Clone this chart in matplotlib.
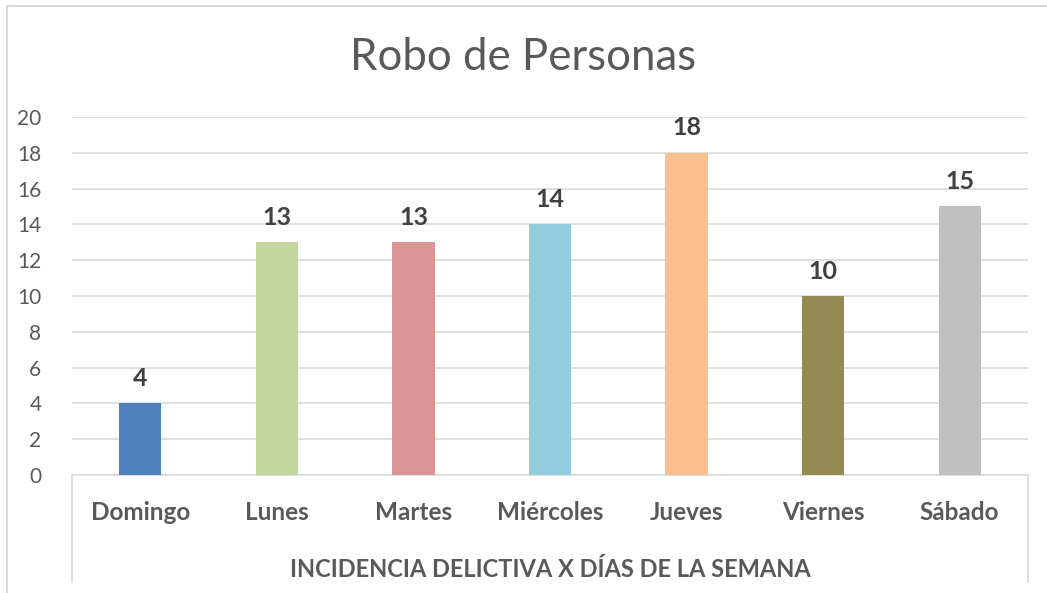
import matplotlib.pyplot as plt
from matplotlib.lines import Line2D

days = ['Domingo', 'Lunes', 'Martes', 'Miércoles', 'Jueves', 'Viernes', 'Sábado']
robos = [4, 13, 13, 14, 18, 10, 15]
colores = ['#4F81BD', '#C3D69B', '#D99694', '#93CDDD', '#FAC090', '#948A54', '#BFBFBF']

plt.rcParams['font.family'] = ['Lato', 'DejaVu Sans']

fig = plt.figure(figsize=(10.47, 5.93), dpi=100)
ax = fig.add_axes([72 / 1047, 1 - 475 / 593, (1028 - 72) / 1047, (475 - 117) / 593])

x = range(len(days))
bars = ax.bar(x, robos, width=0.31, color=colores, zorder=3)
for b, v in zip(bars, robos):
    ax.text(b.get_x() + b.get_width() / 2, v + 0.75, str(v), ha='center', va='bottom',
            fontsize=18, fontweight='bold', color='#404040')

ax.set_xlim(-0.5, len(days) - 0.5)
ax.set_ylim(0, 20)
ax.set_yticks(range(0, 21, 2))
ax.yaxis.grid(True, color='#D9D9D9', linewidth=1.2, zorder=0)
ax.tick_params(axis='y', length=0, pad=22, labelsize=15, labelcolor='#595959')
ax.set_xticks(list(x))
ax.set_xticklabels(days, fontsize=17.5, fontweight='bold', color='#595959')
ax.tick_params(axis='x', length=0, pad=19)
for s in ['top', 'right', 'left']:
    ax.spines[s].set_visible(False)
ax.spines['bottom'].set_color('#D9D9D9')
ax.spines['bottom'].set_linewidth(1.2)

ax.set_xlabel('INCIDENCIA DELICTIVA X DÍAS DE LA SEMANA', fontsize=17,
              fontweight='bold', color='#595959', labelpad=24)

fig.suptitle('Robo de Personas', y=1 - 58 / 593, va='center', fontsize=31.5, color='#595959')

# lineas del eje de categorias y marco del grafico
for px in [72, 1028]:
    fig.add_artist(Line2D([px / 1047, px / 1047], [1 - 475 / 593, 1 - 582 / 593],
                          color='#D9D9D9', linewidth=1.2))
fig.add_artist(Line2D([7 / 1047, 7 / 1047, 1.0], [0.0, 1 - 6 / 593, 1 - 6 / 593],
                      color='#D9D9D9', linewidth=1.5))

plt.savefig('out.png', dpi=100)
